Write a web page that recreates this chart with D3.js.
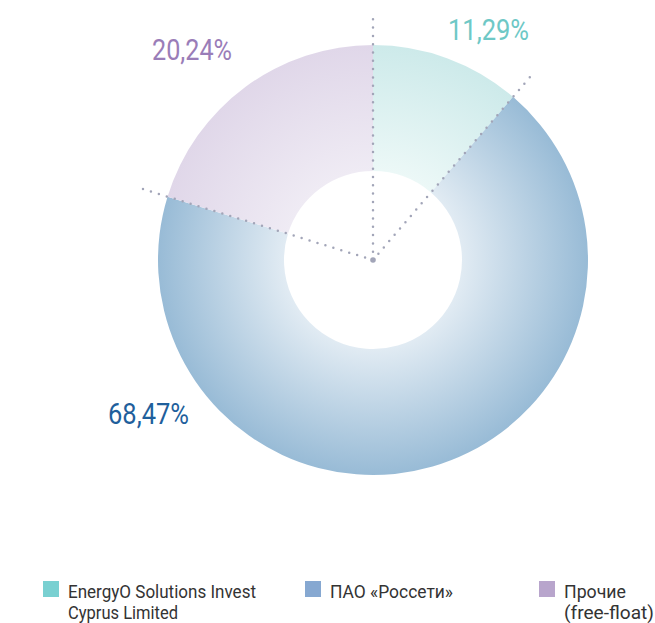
<!DOCTYPE html>
<html>
<head>
<meta charset="utf-8">
<script src="https://cdn.jsdelivr.net/npm/d3@7/dist/d3.min.js"></script>
<style>
  html, body { margin: 0; padding: 0; background: #ffffff; }
  svg { display: block; }
  text { font-family: Roboto, "Liberation Sans Narrow", "DejaVu Sans Condensed", sans-serif; }
</style>
</head>
<body>
<script>
// Shareholder structure
const categories = ["EnergyO Solutions Invest Cyprus Limited", "ПАО «Россети»", "Прочие (free-float)"];
const shares = [11.29, 68.47, 20.24];
const legendLines = [["EnergyO Solutions Invest", "Cyprus Limited"], ["ПАО «Россети»"], ["Прочие", "(free-float)"]];

// Slice fills: light near the hole, deeper towards the rim
const sliceInner = ["#ecf8f7", "#e1ebf3", "#efebf4"];
const sliceOuter = ["#cdeaea", "#98bbd6", "#e0d7e9"];
const labelColors = ["#6ec8c6", "#1f5f9c", "#9a7db8"];
const legendColors = ["#79d0d1", "#86a8d1", "#b8a5cc"];

const W = 655, H = 623;
const cx = 373, cy = 260, rOuter = 215, rInner = 89;

const svg = d3.select("body").append("svg").attr("width", W).attr("height", H);
const defs = svg.append("defs");

const ru = d3.formatLocale({ decimal: ",", thousands: " ", grouping: [3], currency: ["", ""] });
const fmt = v => ru.format(".2f")(v) + "%";

categories.forEach((c, i) => {
  const g = defs.append("radialGradient")
    .attr("id", "grad" + i)
    .attr("gradientUnits", "userSpaceOnUse")
    .attr("cx", 0).attr("cy", 0).attr("r", rOuter);
  g.append("stop").attr("offset", rInner / rOuter).attr("stop-color", sliceInner[i]);
  g.append("stop").attr("offset", 1).attr("stop-color", sliceOuter[i]);
});

const pie = d3.pie().sort(null).value(d => d).startAngle(0).endAngle(2 * Math.PI);
const arcs = pie(shares);
const arc = d3.arc().innerRadius(rInner).outerRadius(rOuter);

const chart = svg.append("g").attr("transform", `translate(${cx},${cy})`);

chart.selectAll("path.slice")
  .data(arcs)
  .join("path")
  .attr("class", "slice")
  .attr("d", arc)
  .attr("fill", (d, i) => `url(#grad${i})`);

// Dotted separators along slice boundaries
const lineLen = 246;
const boundaries = arcs.map(a => a.startAngle);
chart.selectAll("line.sep")
  .data(boundaries)
  .join("line")
  .attr("class", "sep")
  .attr("x1", 0).attr("y1", 0)
  .attr("x2", a => lineLen * Math.sin(a))
  .attr("y2", a => -lineLen * Math.cos(a))
  .attr("stroke", "#a2a5b8")
  .attr("stroke-width", 2.5)
  .attr("stroke-linecap", "round")
  .attr("stroke-dasharray", "0 8.3");
chart.append("circle").attr("r", 2.8).attr("fill", "#a2a5b8");

// Percentage labels
const labelPos = [[448, 40, 81], [108, 424, 81], [152, 60, 80]];
svg.selectAll("text.pct")
  .data(arcs)
  .join("text")
  .attr("class", "pct")
  .attr("x", (d, i) => labelPos[i][0])
  .attr("y", (d, i) => labelPos[i][1])
  .attr("textLength", (d, i) => labelPos[i][2])
  .attr("lengthAdjust", "spacingAndGlyphs")
  .attr("font-size", 29.5)
  .attr("fill", (d, i) => labelColors[i])
  .text(d => fmt(d.data));

// Legend
const legendX = [43, 305, 539];
const legendWidths = [[188, 110], [123], [62, 90]];
const leg = svg.selectAll("g.leg")
  .data(categories)
  .join("g")
  .attr("class", "leg")
  .attr("transform", (d, i) => `translate(${legendX[i]},581)`);
leg.append("rect")
  .attr("width", 16).attr("height", 16)
  .attr("fill", (d, i) => legendColors[i]);
leg.each(function (d, i) {
  d3.select(this).selectAll("text")
    .data(legendLines[i])
    .join("text")
    .attr("x", 25)
    .attr("y", (t, j) => 16.5 + j * 21.5)
    .attr("font-size", 19)
    .attr("fill", "#333333")
    .attr("textLength", (t, j) => legendWidths[i][j])
    .attr("lengthAdjust", "spacingAndGlyphs")
    .text(t => t);
});
</script>
</body>
</html>
